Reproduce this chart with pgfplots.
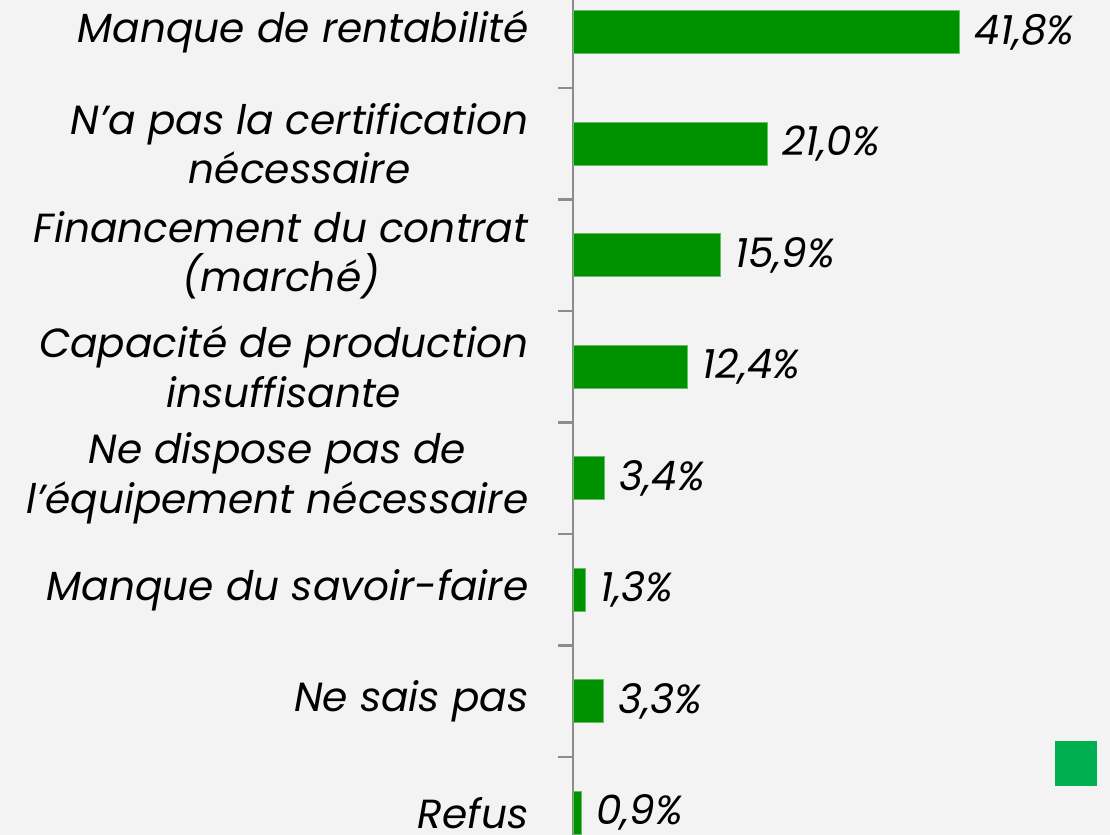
\documentclass[border=0pt]{standalone}
\usepackage{pgfplots}
\pgfplotsset{compat=1.18}
\usepackage{fontspec}
\setmainfont{Poppins}
\definecolor{bargreen}{HTML}{009100}
\definecolor{sqgreen}{HTML}{00B050}
\definecolor{bg}{HTML}{F3F3F3}
\definecolor{axgray}{HTML}{8C8C8C}
\begin{document}
\begin{tikzpicture}
\fill[bg] (0pt,0pt) rectangle (832.5pt,626.25pt);
\begin{scope}
\clip (0pt,0pt) rectangle (832.5pt,626.25pt);
\begin{axis}[
  at={(429.75pt,643.875pt)}, anchor=north west,
  scale only axis,
  width=402.375pt, height=669pt,
  xmin=0, xmax=58,
  ymin=-0.5, ymax=7.5,
  y dir=reverse,
  axis x line=none,
  axis y line*=left,
  axis line style={axgray, line width=1.6pt},
  ytick={0,...,7},
  major tick length=0pt,
  minor ytick={0.5,1.5,...,6.5},
  minor tick length=11.25pt,
  tick align=outside,
  minor tick style={axgray, line width=1.6pt},
  yticklabels={Manque de rentabilité,
    {N’a pas la certification\\nécessaire},
    {Financement du contrat\\(marché)},
    {Capacité de production\\insuffisante},
    {Ne dispose pas de\\l’équipement nécessaire},
    Manque du savoir-faire,
    Ne sais pas,
    Refus},
  yticklabel style={font=\fontsize{30.5}{37}\selectfont\itshape, align=center, anchor=east, xshift=-30pt, text=black},
  xbar, bar width=32.25pt,
  /pgf/number format/assume math mode=true,
  nodes near coords={\pgfmathprintnumber[fixed,fixed zerofill,precision=1,use comma,assume math mode=true]{\pgfplotspointmeta}\%},
  nodes near coords style={font=\fontsize{30.5}{37}\selectfont\itshape, anchor=west, inner sep=0pt, xshift=11pt, text=black},
  clip=false,
]
\addplot[fill=bargreen, draw=bargreen!60!white, line width=0.5pt] coordinates {
  (41.8,0) (21.0,1) (15.9,2) (12.4,3) (3.4,4) (1.3,5) (3.3,6) (0.9,7)};
\end{axis}
\fill[sqgreen] (791.25pt,36.75pt) rectangle (822.75pt,70.5pt);
\end{scope}
\pgfresetboundingbox
\useasboundingbox (0pt,0pt) rectangle (832.5pt,626.25pt);
\end{tikzpicture}
\end{document}
